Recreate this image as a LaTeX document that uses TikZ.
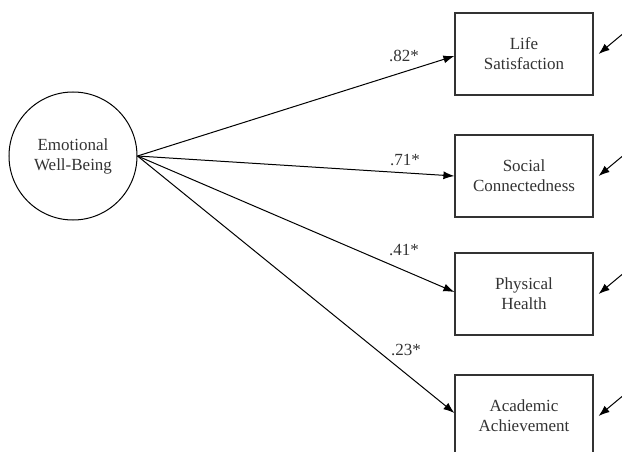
\documentclass[tikz,border=0pt]{standalone}
\usepackage{fontspec}
\setmainfont{Liberation Serif}
\usetikzlibrary{arrows.meta}
\definecolor{ink_gray}{HTML}{333333}

\begin{document}
\begin{tikzpicture}[x=1pt, y=-1pt,
    latent/.style={draw, circle, line width=1pt, minimum size=128pt, inner sep=0pt,
        align=center, text=ink_gray, font=\fontsize{17}{20}\selectfont},
    observed/.style={draw=ink_gray, line width=1.2pt, minimum width=138pt, minimum height=82pt,
        align=center, text=ink_gray, font=\fontsize{17}{20}\selectfont},
    coef/.style={text=ink_gray, inner sep=0pt, font=\fontsize{17}{20}\selectfont},
    path_arrow/.style={line width=1pt, -{Latex[length=11pt, width=8pt]}}]
   \clip (0, 0) rectangle (622, 452);
   % latent factor
   \node [latent] (ewb) at (73, 156) {Emotional\\Well-Being};
   % indicators
   \node [observed] (ls) at (524, 54) {Life\\Satisfaction};
   \node [observed] (sc) at (524, 176) {Social\\Connectedness};
   \node [observed] (ph) at (524, 294) {Physical\\Health};
   \node [observed] (aa) at (524, 416) {Academic\\Achievement};
   % loadings
   \draw [path_arrow] (ewb.east) -- ([yshift=-2pt]ls.west);
   \draw [path_arrow] (ewb.east) -- (sc.west);
   \draw [path_arrow] (ewb.east) -- ([yshift=2pt]ph.west);
   \draw [path_arrow] (ewb.east) -- ([yshift=3pt]aa.west);
   \node [coef] at (404, 56) {.82*};
   \node [coef] at (405, 160) {.71*};
   \node [coef] at (404, 250) {.41*};
   \node [coef] at (406, 350) {.23*};
   % error terms, cut off by the right edge
   \coordinate (e1) at ([shift={(41, -30)}]ls.east);
   \coordinate (e2) at ([shift={(41, -30)}]sc.east);
   \coordinate (e3) at ([shift={(41, -30)}]ph.east);
   \coordinate (e4) at ([shift={(41, -30)}]aa.east);
   \draw [path_arrow] (e1) -- ([xshift=5pt]ls.east);
   \draw [path_arrow] (e2) -- ([xshift=5pt]sc.east);
   \draw [path_arrow] (e3) -- ([xshift=5pt]ph.east);
   \draw [path_arrow] (e4) -- ([xshift=5pt]aa.east);
\end{tikzpicture}
\end{document}
